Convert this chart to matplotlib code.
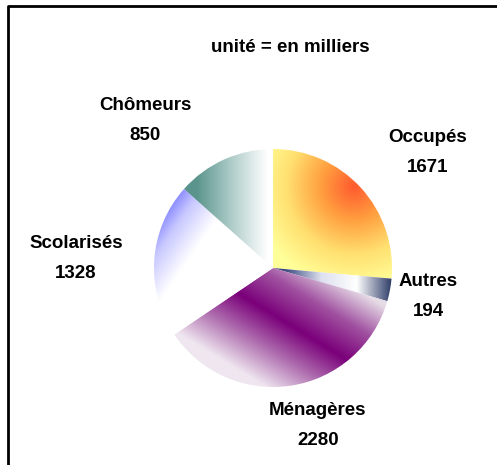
import numpy as np
import matplotlib.pyplot as plt
from matplotlib.colors import LinearSegmentedColormap

# Données (en milliers)
labels = ["Occupés", "Autres", "Ménagères", "Scolarisés", "Chômeurs"]
values = [1671, 194, 2280, 1328, 850]
title = "unité = en milliers"

# Dégradés de chaque secteur
cmaps = [
    LinearSegmentedColormap.from_list("occ", ["#ff5a2e", "#ffa040", "#ffe070", "#ffff99"]),
    LinearSegmentedColormap.from_list("aut", ["#2b3a66", "#ffffff", "#dde0ee", "#3a4a80"]),
    LinearSegmentedColormap.from_list("men", ["#e6dce6", "#a050a0", "#7a007a", "#b070b0", "#efe6f0"]),
    LinearSegmentedColormap.from_list("sco", ["#5a5aff", "#c8c8ff", "#ffffff", "#ffffff"]),
    LinearSegmentedColormap.from_list("cho", ["#5a948c", "#b0cdca", "#ffffff"]),
]

W, H = 497, 465
cx, cy, r = 273, H - 268, 119

fig = plt.figure(figsize=(W / 100, H / 100), dpi=100)
ax = fig.add_axes([0, 0, 1, 1])

wedges, _ = ax.pie(values, startangle=90, counterclock=False, center=(cx, cy),
                   radius=r, frame=True, wedgeprops=dict(linewidth=0))

# grille locale (u, v) dans le repère du camembert
n = 400
u, v = np.meshgrid(np.linspace(-1.02, 1.02, n), np.linspace(-1.02, 1.02, n))


def field(i):
    if i == 0:
        d = np.hypot(u - 0.68, v - 0.68)
        return np.clip(d / 0.85, 0, 1)
    if i == 1:
        return np.clip((1.0 - u) / 0.9, 0, 1)
    if i == 2:
        p1 = np.array([-0.39, -0.16])
        nrm = np.array([0.52, 0.85])
        s = (u - p1[0]) * nrm[0] + (v - p1[1]) * nrm[1]
        return np.clip(0.5 - s / 1.1, 0, 1)
    if i == 3:
        d = np.array([1.0, -0.7]) / np.hypot(1.0, 0.7)
        t = (u + 0.95) * d[0] + (v - 0.6) * d[1]
        return np.clip(t / 0.75, 0, 1)
    return np.clip((u + 0.65) / 0.6, 0, 1)


for i, w in enumerate(wedges):
    w.set_facecolor("none")
    im = ax.imshow(field(i), cmap=cmaps[i], vmin=0, vmax=1, origin="lower",
                   extent=(cx - 1.02 * r, cx + 1.02 * r, cy - 1.02 * r, cy + 1.02 * r),
                   interpolation="bilinear", zorder=1)
    im.set_clip_path(w)

ax.set_xlim(0, W)
ax.set_ylim(0, H)
ax.set_aspect("auto")
ax.axis("off")

font = dict(family="Liberation Sans", fontweight="bold", fontsize=13.5, color="black")

ax.text(290, H - 48, title, ha="center", va="center", **font)

# positions des étiquettes (px)
label_pos = [(428, 138), (428, 282), (318, 410), (76, 243), (145, 105)]
for lab, val, (lx, ly) in zip(labels, values, label_pos):
    ax.text(lx, H - ly, lab, ha="center", va="center", **font)
    ax.text(lx, H - ly - 30, str(val), ha="center", va="center", **font)

# cadre (haut et gauche)
ax.plot([8, 8, W], [0, H - 6, H - 6], color="black", linewidth=2, solid_capstyle="butt")

fig.savefig("out.png", dpi=100)
